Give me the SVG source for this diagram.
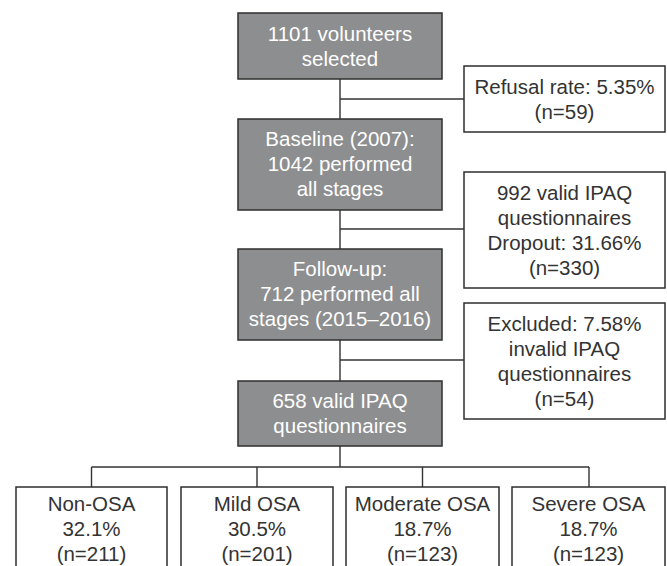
<svg xmlns="http://www.w3.org/2000/svg" width="667" height="566" viewBox="0 0 667 566">
  <style>
    .dark rect { fill: #8d8e90; stroke: #2e2e2e; stroke-width: 1.5; }
    .light rect { fill: #ffffff; stroke: #2e2e2e; stroke-width: 1.5; }
    text { font-family: "Liberation Sans", Arial, sans-serif; font-size: 20.5px; text-anchor: middle; }
    .dark text { fill: #ffffff; }
    .light text { fill: #333333; }
    #connectors path { fill: none; stroke: #333333; stroke-width: 1.4; }
  </style>
  <rect width="667" height="566" fill="#ffffff"/>
  <g id="connectors">
    <path d="M340 79 V119"/>
    <path d="M340 99 H464"/>
    <path d="M340 210 V249"/>
    <path d="M340 229 H464"/>
    <path d="M340 340 V381"/>
    <path d="M340 360 H464"/>
    <path d="M340 446 V467"/>
    <path d="M91.5 467 H589"/>
    <path d="M91.5 467 V487"/>
    <path d="M257 467 V487"/>
    <path d="M422.5 467 V487"/>
    <path d="M589 467 V487"/>
  </g>
  <g id="n_selected" class="dark">
    <rect x="238" y="13" width="204" height="66"/>
    <text x="340" y="40.7">1101 volunteers</text>
    <text x="340" y="65.7">selected</text>
  </g>
  <g id="n_refusal" class="light">
    <rect x="464" y="66" width="201" height="66"/>
    <text x="564.5" y="93.7">Refusal rate: 5.35%</text>
    <text x="564.5" y="118.7">(n=59)</text>
  </g>
  <g id="n_baseline" class="dark">
    <rect x="238" y="119" width="204" height="91"/>
    <text x="340" y="145.7">Baseline (2007):</text>
    <text x="340" y="170.7">1042 performed</text>
    <text x="340" y="195.7">all stages</text>
  </g>
  <g id="n_dropout" class="light">
    <rect x="464" y="172" width="201" height="116"/>
    <text x="564.5" y="199.5">992 valid IPAQ</text>
    <text x="564.5" y="224.5">questionnaires</text>
    <text x="564.5" y="249.5">Dropout: 31.66%</text>
    <text x="564.5" y="274.5">(n=330)</text>
  </g>
  <g id="n_followup" class="dark">
    <rect x="238" y="249" width="204" height="91"/>
    <text x="340" y="276">Follow-up:</text>
    <text x="340" y="301">712 performed all</text>
    <text x="340" y="326">stages (2015–2016)</text>
  </g>
  <g id="n_excluded" class="light">
    <rect x="464" y="303" width="201" height="116"/>
    <text x="564.5" y="330.5">Excluded: 7.58%</text>
    <text x="564.5" y="355.5">invalid IPAQ</text>
    <text x="564.5" y="380.5">questionnaires</text>
    <text x="564.5" y="405.5">(n=54)</text>
  </g>
  <g id="n_valid" class="dark">
    <rect x="238" y="381" width="204" height="65"/>
    <text x="340" y="408.3">658 valid IPAQ</text>
    <text x="340" y="433.3">questionnaires</text>
  </g>
  <g id="n_nonosa" class="light">
    <rect x="16" y="487" width="151" height="90"/>
    <text x="91.5" y="510.5">Non-OSA</text>
    <text x="91.5" y="535.5">32.1%</text>
    <text x="91.5" y="560.5">(n=211)</text>
  </g>
  <g id="n_mild" class="light">
    <rect x="181" y="487" width="152" height="90"/>
    <text x="257" y="510.5">Mild OSA</text>
    <text x="257" y="535.5">30.5%</text>
    <text x="257" y="560.5">(n=201)</text>
  </g>
  <g id="n_moderate" class="light">
    <rect x="346" y="487" width="153" height="90"/>
    <text x="422.5" y="510.5">Moderate OSA</text>
    <text x="422.5" y="535.5">18.7%</text>
    <text x="422.5" y="560.5">(n=123)</text>
  </g>
  <g id="n_severe" class="light">
    <rect x="512" y="487" width="153" height="90"/>
    <text x="588.5" y="510.5">Severe OSA</text>
    <text x="588.5" y="535.5">18.7%</text>
    <text x="588.5" y="560.5">(n=123)</text>
  </g>
</svg>
